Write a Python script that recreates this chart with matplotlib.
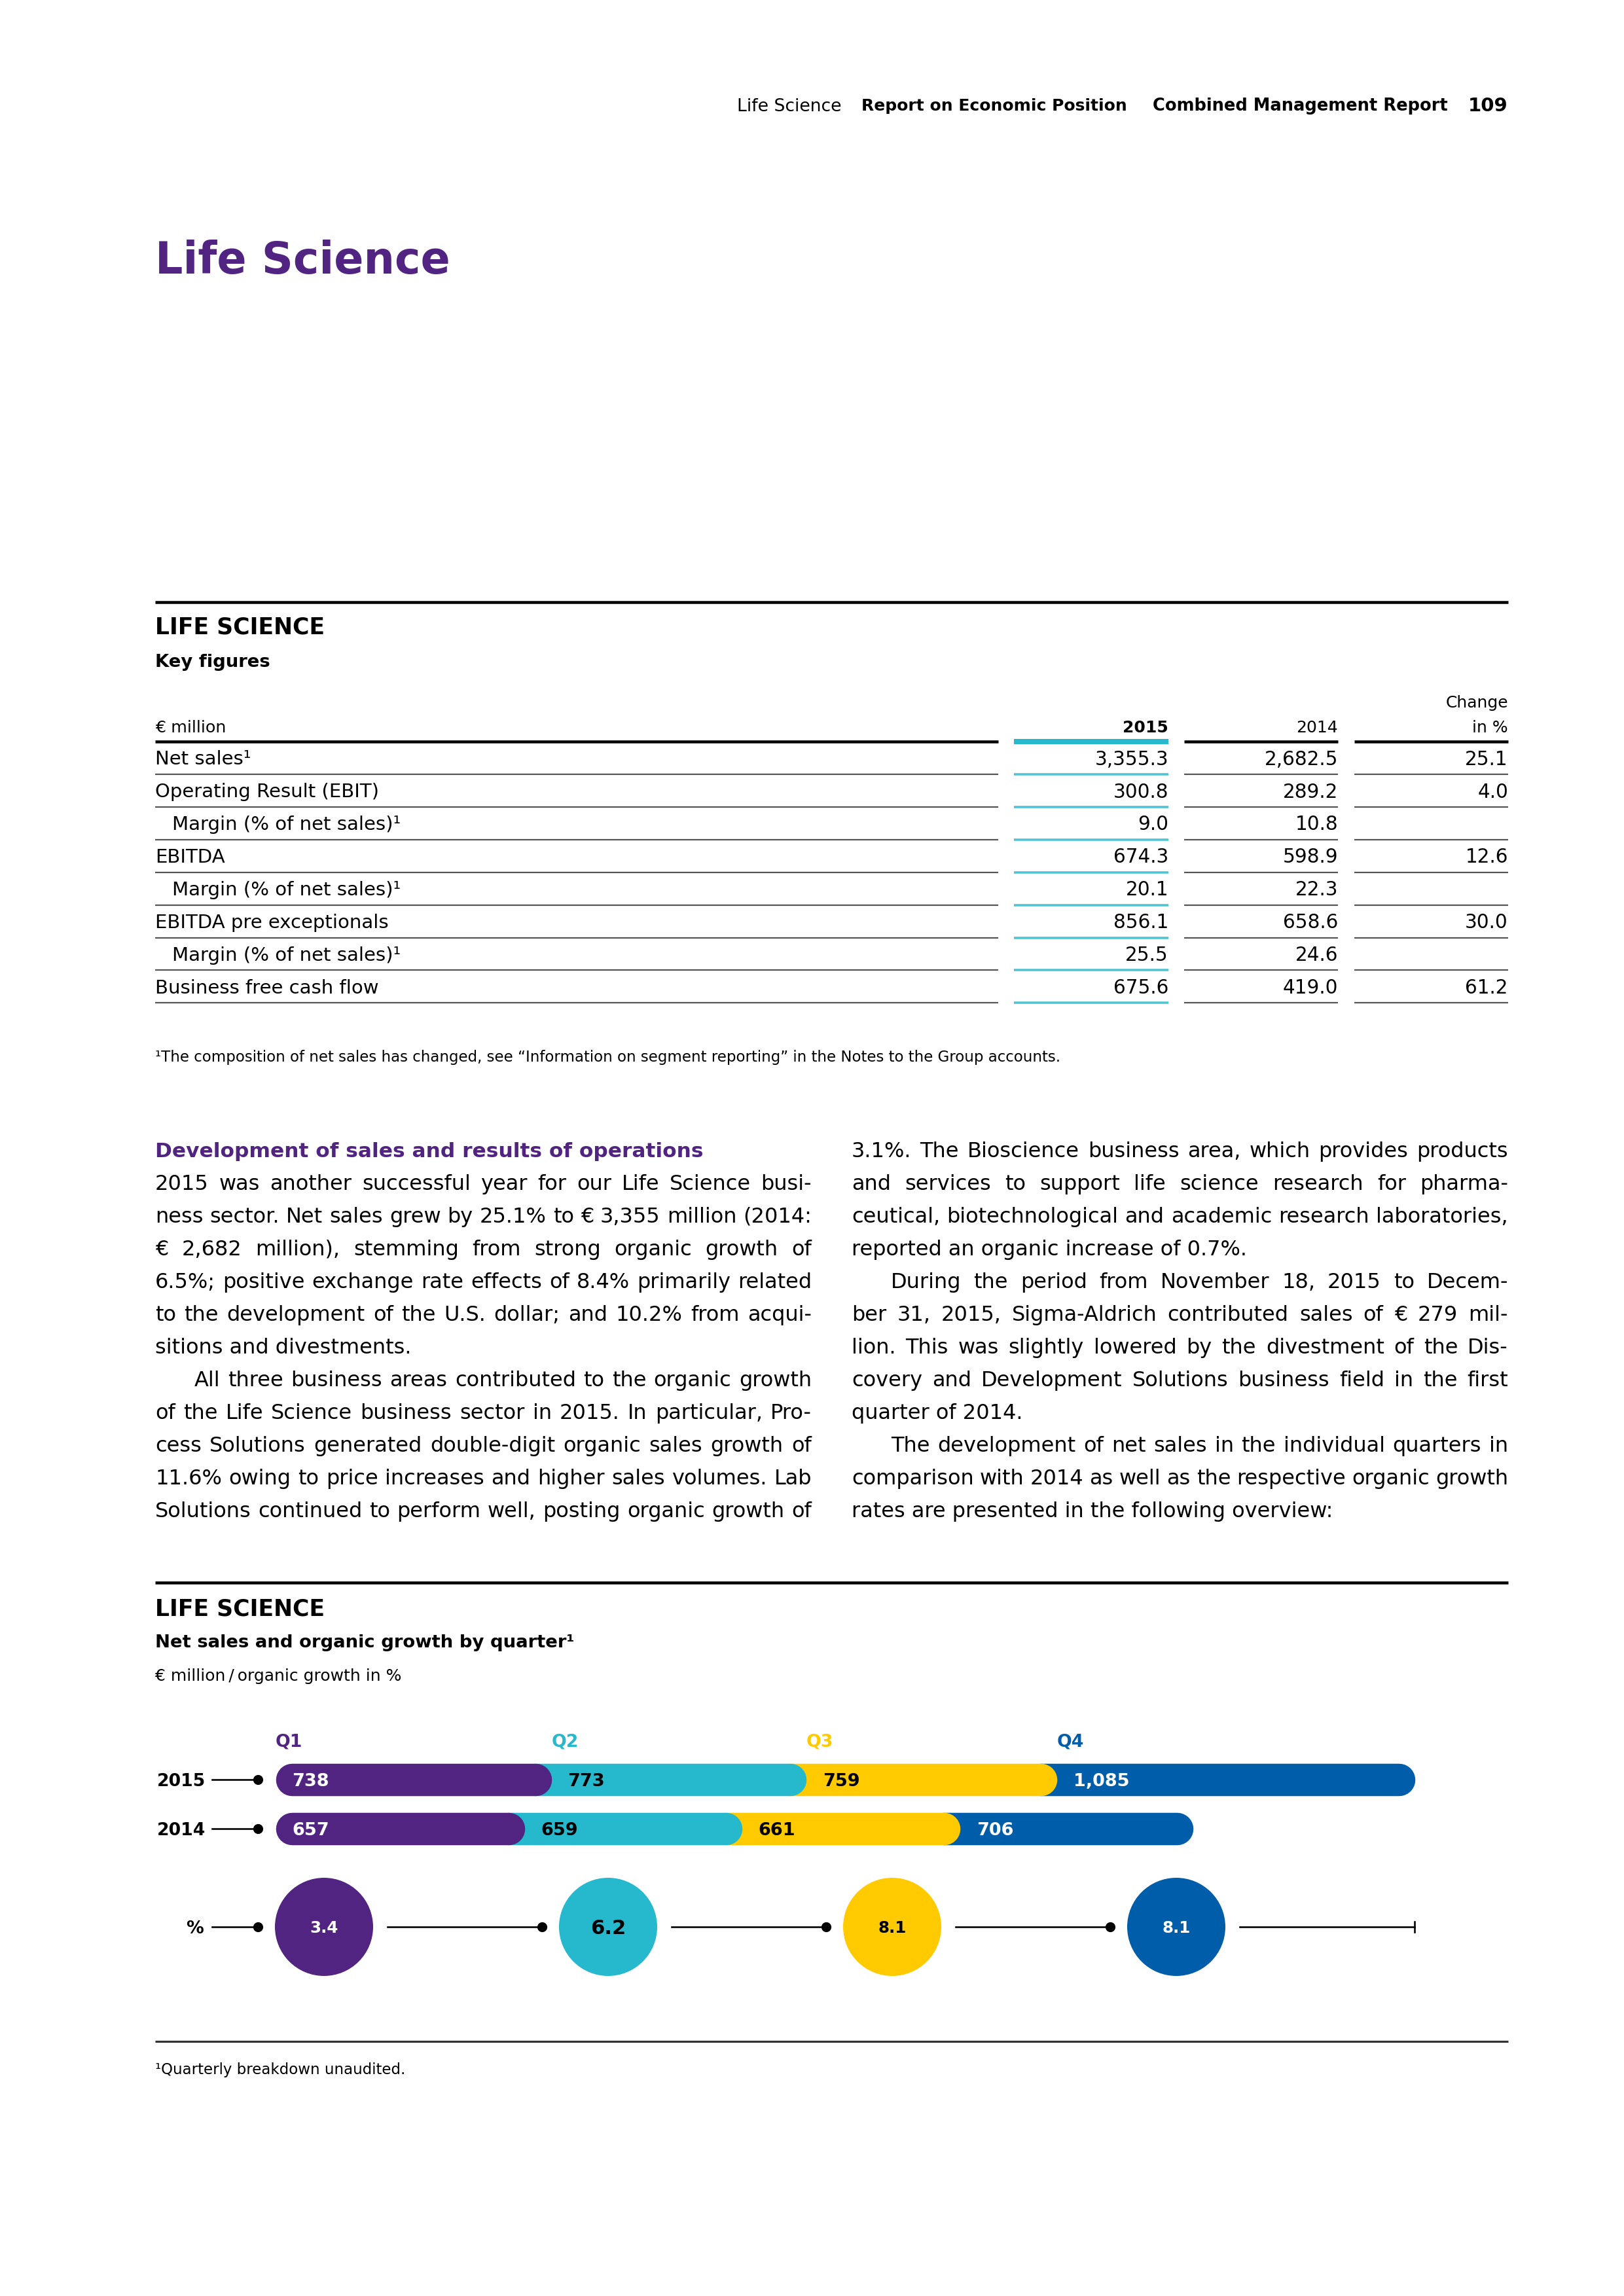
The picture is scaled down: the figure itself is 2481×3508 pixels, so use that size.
import matplotlib
matplotlib.use('Agg')
import matplotlib.pyplot as plt
from matplotlib.patches import Circle
from matplotlib.font_manager import FontProperties

plt.rcParams['font.family'] = ['DejaVu Sans']

W, H, DPI = 2481, 3508, 300

PURPLE = '#512482'
CYAN = '#26B8CC'
YELLOW = '#FFCB00'
BLUE = '#005DA9'
CYAN_LINE = '#4EC3D4'

# ---------------- data ----------------
quarters = ['Q1', 'Q2', 'Q3', 'Q4']
years = ['2015', '2014']
sales_2015 = [738, 773, 759, 1085]
sales_2014 = [657, 659, 661, 706]
organic_growth = ['3.4', '6.2', '8.1', '8.1']
quarter_colors = [PURPLE, CYAN, YELLOW, BLUE]
label_colors = ['white', 'black', 'black', 'white']

kf_rows = ['Net sales¹', 'Operating Result (EBIT)', 'Margin (% of net sales)¹', 'EBITDA',
           'Margin (% of net sales)¹', 'EBITDA pre exceptionals', 'Margin (% of net sales)¹',
           'Business free cash flow']
kf_indent = [False, False, True, False, True, False, True, False]
kf_2015 = [3355.3, 300.8, 9.0, 674.3, 20.1, 856.1, 25.5, 675.6]
kf_2014 = [2682.5, 289.2, 10.8, 598.9, 22.3, 658.6, 24.6, 419.0]
kf_change = [25.1, 4.0, None, 12.6, None, 30.0, None, 61.2]

col1_lines = [
    ("2015 was another successful year for our Life Science busi-", 'J', False),
    ("ness sector. Net sales grew by 25.1% to € 3,355 million (2014:", 'J', False),
    ("€ 2,682 million), stemming from strong organic growth of", 'J', False),
    ("6.5%; positive exchange rate effects of 8.4% primarily related", 'J', False),
    ("to the development of the U.S. dollar; and 10.2% from acqui-", 'J', False),
    ("sitions and divestments.", 'L', False),
    ("All three business areas contributed to the organic growth", 'J', True),
    ("of the Life Science business sector in 2015. In particular, Pro-", 'J', False),
    ("cess Solutions generated double-digit organic sales growth of", 'J', False),
    ("11.6% owing to price increases and higher sales volumes. Lab", 'J', False),
    ("Solutions continued to perform well, posting organic growth of", 'J', False),
]
col2_lines = [
    ("3.1%. The Bioscience business area, which provides products", 'J', False),
    ("and services to support life science research for pharma-", 'J', False),
    ("ceutical, biotechnological and academic research laboratories,", 'J', False),
    ("reported an organic increase of 0.7%.", 'L', False),
    ("During the period from November 18, 2015 to Decem-", 'J', True),
    ("ber 31, 2015, Sigma-Aldrich contributed sales of € 279 mil-", 'J', False),
    ("lion. This was slightly lowered by the divestment of the Dis-", 'J', False),
    ("covery and Development Solutions business field in the first", 'J', False),
    ("quarter of 2014.", 'L', False),
    ("The development of net sales in the individual quarters in", 'J', True),
    ("comparison with 2014 as well as the respective organic growth", 'J', False),
    ("rates are presented in the following overview:", 'L', False),
]

# ---------------- figure ----------------
fig = plt.figure(figsize=(W / DPI, H / DPI), dpi=DPI)
ax = fig.add_axes([0, 0, 1, 1])
ax.set_xlim(0, W)
ax.set_ylim(H, 0)
ax.axis('off')

PX = DPI / 72.0          # pixels per point
LW = 72.0 / DPI          # points per pixel

LEFT, RIGHT = 237, 2304


def txt(x, yc, s, size, weight='normal', color='black', ha='left', axis=None, z=6):
    a = axis if axis is not None else ax
    base = yc + 0.36 * size * PX
    a.text(x, base, s, fontsize=size, fontweight=weight, color=color,
           ha=ha, va='baseline', zorder=z)


def hline(x0, x1, y, px, color='black', z=2):
    ax.plot([x0, x1], [y, y], color=color, lw=px * LW, solid_capstyle='butt', zorder=z)


# ---------------- header ----------------
txt(RIGHT, 160, '109', 7.0, 'bold', ha='right')
txt(2212, 160, 'Combined Management Report', 6.2, 'bold', ha='right')
txt(1722, 160, 'Report on Economic Position', 6.0, 'bold', ha='right')
txt(1285, 160, 'Life Science', 6.4, 'normal', ha='right')

ax.text(LEFT, 418, 'Life Science', fontsize=16, fontweight='bold', color=PURPLE,
        ha='left', va='baseline')

# ---------------- key figures table ----------------
hline(LEFT, RIGHT, 920, 4.5)
txt(LEFT, 956, 'LIFE SCIENCE', 8.3, 'bold')
txt(LEFT, 1009, 'Key figures', 6.6, 'bold')

cols = [(LEFT, 1525), (1549, 1785), (1809, 2044), (2069, RIGHT)]
txt(RIGHT, 1072, 'Change', 6.0, ha='right')
txt(LEFT, 1110, '€ million', 6.1)
txt(cols[1][1], 1110, '2015', 6.0, 'bold', ha='right')
txt(cols[2][1], 1110, '2014', 6.0, ha='right')
txt(RIGHT, 1110, 'in %', 6.0, ha='right')

for i, (x0, x1) in enumerate(cols):
    if i == 1:
        hline(x0, x1, 1133, 8, CYAN)
    else:
        hline(x0, x1, 1133, 4.5)

row_y0, row_pitch = 1158, 49.9
for r, label in enumerate(kf_rows):
    yc = row_y0 + r * row_pitch
    txt(LEFT + (26 if kf_indent[r] else 0), yc, label, 7.0)
    txt(cols[1][1], yc, f'{kf_2015[r]:,.1f}', 7.1, ha='right')
    txt(cols[2][1], yc, f'{kf_2014[r]:,.1f}', 7.1, ha='right')
    if kf_change[r] is not None:
        txt(cols[3][1], yc, f'{kf_change[r]:,.1f}', 7.1, ha='right')
    ly = yc + 25
    for i, (x0, x1) in enumerate(cols):
        if i == 1:
            hline(x0, x1, ly, 3.5, CYAN_LINE)
        else:
            hline(x0, x1, ly, 2.2, '#555555')

txt(LEFT, 1614, '¹The composition of net sales has changed, see “Information on segment reporting” in the Notes to the Group accounts.', 5.5)

# ---------------- body text (justified) ----------------
renderer = fig.canvas.get_renderer()


def width_of(s, fp):
    w, h, d = renderer.get_text_width_height_descent(s, fp, ismath=False)
    return w


col_w = 1003
BODY = 7.7


def draw_column(lines, x_left, y_first, pitch):
    for k, (s, mode, ind) in enumerate(lines):
        yc = y_first + k * pitch
        xl = x_left + (60 if ind else 0)
        avail = x_left + col_w - xl
        size = BODY
        fp = FontProperties(family='DejaVu Sans', size=size)
        base = yc + 0.36 * 7.2 * PX
        if mode == 'J':
            words = s.split(' ')
            sp = width_of('a a', fp) - width_of('aa', fp)
            ws = [width_of(w_, fp) for w_ in words]
            need = sum(ws) + 0.55 * sp * (len(words) - 1)
            if need > avail:
                size = BODY * avail / need
                fp = FontProperties(family='DejaVu Sans', size=size)
                ws = [width_of(w_, fp) for w_ in words]
            gap = (avail - sum(ws)) / (len(words) - 1)
            x = xl
            for w_, wd in zip(words, ws):
                ax.text(x, base, w_, fontproperties=fp, ha='left', va='baseline')
                x += wd + gap
        else:
            ax.text(xl, base, s, fontproperties=fp, ha='left', va='baseline')


pitch = 50.0
txt(LEFT, 1757, 'Development of sales and results of operations', 7.5, 'bold', PURPLE)
draw_column(col1_lines, LEFT, 1757 + pitch, pitch)
draw_column(col2_lines, 1301, 1757, pitch)

# ---------------- chart section ----------------
hline(LEFT, RIGHT, 2418, 4.5)
txt(LEFT, 2456, 'LIFE SCIENCE', 8.3, 'bold')
txt(LEFT, 2507, 'Net sales and organic growth by quarter¹', 6.6, 'bold')
txt(LEFT, 2559, '€ million\u2009/\u2009organic growth in %', 6.0)

# bar axis: x in € million, y in pixels
X0 = 421.0            # left edge of bars (px)
BAR_H = 49.5          # bar thickness (px)
R = BAR_H / 2
S = 0.504             # px per € million
ax2 = fig.add_axes([0, 0, 1, 1], sharey=ax)
ax2.set_xlim(-(X0 + R) / S, (W - X0 - R) / S)
ax2.axis('off')
ax2.patch.set_alpha(0)

bar_y = {'2015': 2719, '2014': 2794}
Q_Y = 2659
for yr, vals in zip(years, [sales_2015, sales_2014]):
    y = bar_y[yr]
    cum = [0]
    for v in vals:
        cum.append(cum[-1] + v)
    for i in range(len(vals) - 1, -1, -1):
        ax2.plot([cum[i], cum[i + 1]], [y, y], color=quarter_colors[i],
                 lw=BAR_H * LW, solid_capstyle='round', zorder=10 - i)
    for i, v in enumerate(vals):
        vis_start = cum[i] - R / S if i == 0 else cum[i] + R / S
        ax2.text(vis_start + 25 / S, y + 0.36 * 6.5 * PX, f'{v:,}', fontsize=6.5,
                 fontweight='bold', color=label_colors[i], ha='left', va='baseline',
                 zorder=20)
        if yr == '2015':
            ax2.text(vis_start, Q_Y + 0.36 * 6.4 * PX, quarters[i], fontsize=6.4,
                     fontweight='bold', color=quarter_colors[i], ha='left', va='baseline')
    # year label + connector
    txt(314, y, yr, 6.4, 'bold', ha='right')
    ax.plot([324, 394], [y, y], color='black', lw=2.6 * LW, zorder=3)
    ax.plot([394], [y], 'o', color='black', ms=11 * LW, zorder=3)

# organic growth circles
CY = 2944
CR = 75
cx = [495 + 434 * i for i in range(4)]
txt(311, CY, '%', 6.4, 'bold', ha='right')
ax.plot([324, 394], [CY, CY], color='black', lw=2.6 * LW, zorder=3)
ax.plot([394], [CY], 'o', color='black', ms=11 * LW, zorder=3)
for i, g in enumerate(organic_growth):
    ax.add_patch(Circle((cx[i], CY), CR, color=quarter_colors[i], zorder=4, lw=0))
    sz = 7.4 if i == 1 else 5.9
    txt(cx[i], CY, g, sz, 'bold', label_colors[i], ha='center', z=8)
    x_start = cx[i] + CR + 22
    if i < 3:
        x_end = cx[i + 1] - CR - 26
        ax.plot([x_start, x_end], [CY, CY], color='black', lw=2.6 * LW, zorder=3)
        ax.plot([x_end], [CY], 'o', color='black', ms=11 * LW, zorder=3)
    else:
        x_end = X0 + 2 * R + sum(sales_2015) * S
        ax.plot([x_start, x_end], [CY, CY], color='black', lw=2.6 * LW, zorder=3)
        ax.plot([x_end, x_end], [CY - 8, CY + 8], color='black', lw=2.6 * LW, zorder=3)

hline(LEFT, RIGHT, 3119, 3.2, '#333333')
txt(LEFT, 3161, '¹Quarterly breakdown unaudited.', 5.5)

fig.savefig('out.png', dpi=DPI)
